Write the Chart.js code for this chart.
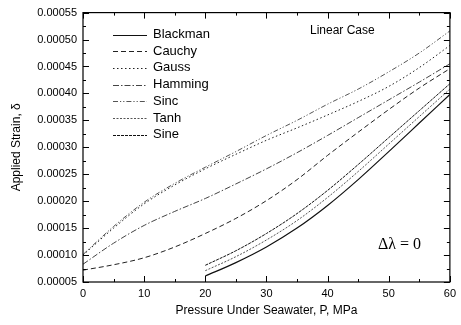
<!DOCTYPE html>
<html>
<head>
<meta charset="utf-8">
<script src="https://cdn.jsdelivr.net/npm/chart.js@4.4.1/dist/chart.umd.min.js"></script>
<style>
  html, body { margin: 0; padding: 0; background: #fff; }
  #wrap { width: 461px; height: 325px; }
</style>
</head>
<body>
<div id="wrap"><canvas id="strainChart" width="461" height="325"></canvas></div>
<script>
// pressure values (MPa)
const pressureFull = [0, 5, 10, 15, 20, 25, 30, 35, 40, 45, 50, 55, 60];
const pressureHigh = [20, 25, 30, 35, 40, 45, 50, 55, 60];

// applied strain
const blackman = [0.000061, 0.000086, 0.000115, 0.000150, 0.000192, 0.000240, 0.000292, 0.000345, 0.000398];
const cauchy   = [0.000072, 0.000082, 0.000095, 0.000115, 0.000140, 0.000168, 0.000201, 0.000240, 0.000285, 0.000328, 0.000370, 0.000410, 0.000446];
const gauss    = [0.000100, 0.000150, 0.000195, 0.000230, 0.000260, 0.000287, 0.000313, 0.000336, 0.000360, 0.000385, 0.000413, 0.000448, 0.000489];
const hamming  = [0.000083, 0.000122, 0.000155, 0.000181, 0.000205, 0.000232, 0.000260, 0.000290, 0.000322, 0.000355, 0.000388, 0.000421, 0.000455];
const sinc     = [0.000101, 0.000153, 0.000198, 0.000233, 0.000263, 0.000292, 0.000322, 0.000350, 0.000380, 0.000408, 0.000440, 0.000475, 0.000516];
const tanh     = [0.000071, 0.000097, 0.000128, 0.000164, 0.000207, 0.000255, 0.000306, 0.000357, 0.000408];
const sine     = [0.000081, 0.000108, 0.000140, 0.000177, 0.000220, 0.000268, 0.000318, 0.000368, 0.000418];

const xTicks = [0, 10, 20, 30, 40, 50, 60];

function pts(xs, ys) {
    return ys.map((y, i) => ({x: xs[i], y: y}));
}

function series(label, xs, ys, color, dash, width) {
    return {
        label: label,
        data: pts(xs, ys),
        borderColor: color,
        borderDash: dash,
        borderWidth: width || 1,
        pointRadius: 0,
        fill: false,
        cubicInterpolationMode: "monotone"
    };
}

// box, inward ticks on all four sides
const frameTicks = {
    id: "frameTicks",
    afterDraw(chart) {
        const ctx = chart.ctx;
        const a = chart.chartArea;
        const xs = chart.scales.x, ys = chart.scales.y;
        ctx.save();
        ctx.strokeStyle = "#000";
        ctx.lineWidth = 1.2;
        ctx.strokeRect(a.left, a.top, a.right - a.left, a.bottom - a.top);
        ctx.lineWidth = 1;
        ctx.beginPath();
        for (let v = 0; v <= 60; v += 5) {
            const px = Math.round(xs.getPixelForValue(v)) + 0.5;
            const len = v % 10 === 0 ? 6 : 3;
            ctx.moveTo(px, a.bottom); ctx.lineTo(px, a.bottom - len);
            ctx.moveTo(px, a.top); ctx.lineTo(px, a.top + len);
        }
        for (let k = 0; k <= 20; k++) {
            const v = 0.00005 + k * 0.000025;
            const py = Math.round(ys.getPixelForValue(v)) + 0.5;
            const len = k % 2 === 0 ? 6 : 3;
            ctx.moveTo(a.left, py); ctx.lineTo(a.left + len, py);
            ctx.moveTo(a.right, py); ctx.lineTo(a.right - len, py);
        }
        ctx.stroke();
        ctx.restore();
    }
};

// legend inside the plot + text notes
const insideLegend = {
    id: "insideLegend",
    afterDraw(chart) {
        const ctx = chart.ctx;
        ctx.save();
        ctx.font = "13px 'Liberation Sans', Arial, sans-serif";
        ctx.textBaseline = "middle";
        ctx.fillStyle = "#000";
        chart.data.datasets.forEach((ds, i) => {
            const y = 34.5 + i * 16.7;
            ctx.strokeStyle = ds.borderColor;
            ctx.lineWidth = ds.borderWidth;
            ctx.setLineDash(ds.borderDash || []);
            ctx.beginPath();
            ctx.moveTo(113, Math.round(y) + 0.5);
            ctx.lineTo(147, Math.round(y) + 0.5);
            ctx.stroke();
            ctx.fillText(ds.label, 153, y);
        });
        ctx.setLineDash([]);
        ctx.font = "12px 'Liberation Sans', Arial, sans-serif";
        ctx.fillText("Linear Case", 310, 31);
        ctx.font = "16px 'Liberation Serif', 'Times New Roman', serif";
        ctx.fillText("\u0394\u03bb = 0", 378, 245);
        ctx.restore();
    }
};

const strainChart = new Chart(document.getElementById("strainChart"), {
    type: "line",
    data: {
        datasets: [
            series("Blackman", pressureHigh, blackman, "#111", [], 1.2),
            series("Cauchy", pressureFull, cauchy, "#222", [5, 3]),
            series("Gauss", pressureFull, gauss, "#222", [1.5, 2.5]),
            series("Hamming", pressureFull, hamming, "#444", [6, 2, 1.5, 2]),
            series("Sinc", pressureFull, sinc, "#555", [5, 2, 1.2, 2, 1.2, 2]),
            series("Tanh", pressureHigh, tanh, "#555", [2, 1.5]),
            series("Sine", pressureHigh, sine, "#111", [3, 1])
        ]
    },
    options: {
        responsive: false,
        animation: false,
        layout: { padding: { top: 10, right: 6, left: 0, bottom: 0 } },
        plugins: { legend: { display: false }, tooltip: { enabled: false } },
        scales: {
            x: {
                type: "linear",
                min: 0,
                max: 60,
                afterFit(s) { s.height = 43; },
                afterBuildTicks(s) { s.ticks = xTicks.map(v => ({value: v})); },
                grid: { display: false, drawTicks: false },
                border: { display: false },
                ticks: { color: "#000", padding: 5, maxRotation: 0,
                         font: { family: "'Liberation Sans', Arial, sans-serif", size: 11 } },
                title: { display: true, text: "Pressure Under Seawater, P, MPa", color: "#000",
                         padding: { top: 0, bottom: 7 },
                         font: { family: "'Liberation Sans', Arial, sans-serif", size: 12 } }
            },
            y: {
                min: 0.00005,
                max: 0.00055,
                afterFit(s) { s.width = 83; },
                afterBuildTicks(s) {
                    const t = [];
                    for (let k = 0; k <= 10; k++) t.push({value: 0.00005 + k * 0.00005});
                    s.ticks = t;
                },
                grid: { display: false, drawTicks: false },
                border: { display: false },
                ticks: { color: "#000", padding: 6,
                         callback: v => v.toFixed(5),
                         font: { family: "'Liberation Sans', Arial, sans-serif", size: 11 } },
                title: { display: true, text: "Applied Strain, \u03b4", color: "#000",
                         padding: { top: 9, bottom: 0 },
                         font: { family: "'Liberation Sans', Arial, sans-serif", size: 12 } }
            }
        }
    },
    plugins: [frameTicks, insideLegend]
});
</script>
</body>
</html>
